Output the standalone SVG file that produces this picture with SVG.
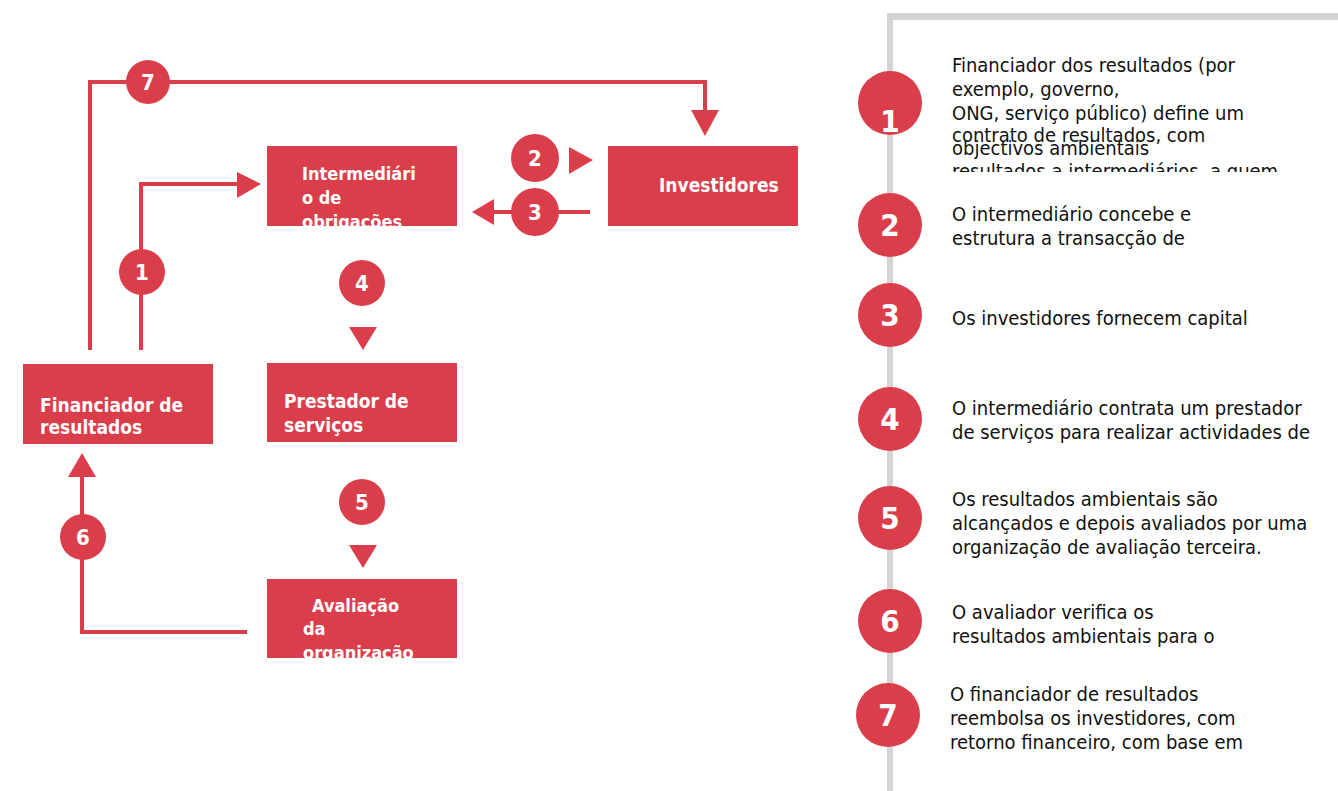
<svg xmlns="http://www.w3.org/2000/svg" width="1338" height="791" viewBox="0 0 1338 791">
<style>
.box{fill:#DB3E4B}
.lbl{font-family:"DejaVu Sans Condensed","DejaVu Sans",sans-serif;font-stretch:condensed;font-weight:bold;fill:#fff}
.ln{fill:none;stroke:#DB3E4B;stroke-width:4}
.tri{fill:#DB3E4B}
.dot{fill:#DB3E4B}
.sd{font-family:"DejaVu Sans Condensed","DejaVu Sans",sans-serif;font-stretch:condensed;font-weight:bold;font-size:22px;fill:#fff;text-anchor:middle}
.bd{font-family:"DejaVu Sans Condensed","DejaVu Sans",sans-serif;font-stretch:condensed;font-weight:bold;font-size:31px;fill:#fff;text-anchor:middle}
.tx{font-family:"DejaVu Sans Condensed","DejaVu Sans",sans-serif;font-stretch:condensed;font-size:20px;fill:#111}
</style>
<defs>
<clipPath id="c-int"><rect x="267" y="146" width="190" height="80"/></clipPath>
<clipPath id="c-ava"><rect x="267" y="579" width="190" height="79"/></clipPath>
<clipPath id="c-r1"><circle cx="890" cy="103" r="32"/></clipPath>
<clipPath id="c-t1"><rect x="940" y="40" width="398" height="132"/></clipPath>
</defs>
<rect width="1338" height="791" fill="#fff"/>

<g id="panel">
<rect x="887" y="13" width="451" height="7" fill="#D4D4D6"/>
<rect x="887" y="13" width="6" height="778" fill="#D4D4D6"/>
</g>

<g id="connectors">
<polyline class="ln" points="90,350 90,82 705,82 705,112"/>
<polygon class="tri" points="691,110 719,110 705,136"/>
<polyline class="ln" points="141,350 141,184 238,184"/>
<polygon class="tri" points="237,172 237,198 261,184"/>
<polygon class="tri" points="569,147 569,174 593,160"/>
<line class="ln" x1="590" y1="212" x2="490" y2="212"/>
<polygon class="tri" points="494,199 494,225 472,212"/>
<polygon class="tri" points="349,327 377,327 363,350"/>
<polygon class="tri" points="349,545 377,545 363,568"/>
<polyline class="ln" points="247,632 82,632 82,476"/>
<polygon class="tri" points="68,477 96,477 82,453"/>
<circle class="dot" cx="148" cy="82" r="22"/><text class="sd" x="148" y="90">7</text>
<circle class="dot" cx="142" cy="272" r="23"/><text class="sd" x="142" y="280">1</text>
<circle class="dot" cx="535" cy="158" r="24"/><text class="sd" x="535" y="166">2</text>
<circle class="dot" cx="535" cy="212" r="24"/><text class="sd" x="535" y="220">3</text>
<circle class="dot" cx="362" cy="283" r="23"/><text class="sd" x="362" y="291">4</text>
<circle class="dot" cx="362" cy="502" r="23"/><text class="sd" x="362" y="510">5</text>
<circle class="dot" cx="83" cy="537" r="23"/><text class="sd" x="83" y="545">6</text>
</g>

<g id="node-intermediario">
<rect class="box" x="267" y="146" width="190" height="80"/>
<g clip-path="url(#c-int)"><text class="lbl" font-size="18"><tspan x="302" y="180">Intermediári</tspan><tspan x="302" y="204">o de</tspan><tspan x="302" y="228">obrigações</tspan></text></g>
</g>
<g id="node-investidores">
<rect class="box" x="608" y="146" width="190" height="80"/>
<text class="lbl" font-size="19" x="659" y="192">Investidores</text>
</g>
<g id="node-financiador">
<rect class="box" x="23" y="364" width="190" height="80"/>
<text class="lbl" font-size="19"><tspan x="40" y="412">Financiador de</tspan><tspan x="40" y="434">resultados</tspan></text>
</g>
<g id="node-prestador">
<rect class="box" x="267" y="363" width="190" height="79"/>
<text class="lbl" font-size="19"><tspan x="284" y="408">Prestador de</tspan><tspan x="284" y="432">serviços</tspan></text>
</g>
<g id="node-avaliacao">
<rect class="box" x="267" y="579" width="190" height="79"/>
<g clip-path="url(#c-ava)"><text class="lbl" font-size="18"><tspan x="312" y="612">Avaliação</tspan><tspan x="303" y="635">da</tspan><tspan x="303" y="659">organização</tspan></text></g>
</g>

<g id="legend-1">
<circle class="dot" cx="890" cy="103" r="32"/>
<g clip-path="url(#c-r1)"><text class="bd" x="890" y="132">1</text></g>
<g clip-path="url(#c-t1)"><text class="tx"><tspan x="952" y="72">Financiador dos resultados (por</tspan><tspan x="952" y="96">exemplo, governo,</tspan><tspan x="952" y="120">ONG, serviço público) define um</tspan><tspan x="952" y="142">contrato de resultados, com</tspan><tspan x="952" y="155">objectivos ambientais</tspan><tspan x="952" y="178">resultados a intermediários, a quem</tspan></text></g>
</g>
<g id="legend-2">
<circle class="dot" cx="890" cy="225" r="32"/><text class="bd" x="890" y="236">2</text>
<text class="tx"><tspan x="952" y="221">O intermediário concebe e</tspan><tspan x="952" y="245">estrutura a transacção de</tspan></text>
</g>
<g id="legend-3">
<circle class="dot" cx="890" cy="315" r="32"/><text class="bd" x="890" y="326">3</text>
<text class="tx" x="952" y="325">Os investidores fornecem capital</text>
</g>
<g id="legend-4">
<circle class="dot" cx="890" cy="419" r="32"/><text class="bd" x="890" y="430">4</text>
<text class="tx"><tspan x="952" y="415">O intermediário contrata um prestador</tspan><tspan x="952" y="439">de serviços para realizar actividades de</tspan></text>
</g>
<g id="legend-5">
<circle class="dot" cx="890" cy="518" r="32"/><text class="bd" x="890" y="529">5</text>
<text class="tx"><tspan x="952" y="506">Os resultados ambientais são</tspan><tspan x="952" y="530">alcançados e depois avaliados por uma</tspan><tspan x="952" y="554">organização de avaliação terceira.</tspan></text>
</g>
<g id="legend-6">
<circle class="dot" cx="890" cy="621" r="32"/><text class="bd" x="890" y="632">6</text>
<text class="tx"><tspan x="952" y="619">O avaliador verifica os</tspan><tspan x="952" y="643">resultados ambientais para o</tspan></text>
</g>
<g id="legend-7">
<circle class="dot" cx="888" cy="715" r="32"/><text class="bd" x="888" y="726">7</text>
<text class="tx"><tspan x="950" y="701">O financiador de resultados</tspan><tspan x="950" y="725">reembolsa os investidores, com</tspan><tspan x="950" y="749">retorno financeiro, com base em</tspan></text>
</g>
</svg>
